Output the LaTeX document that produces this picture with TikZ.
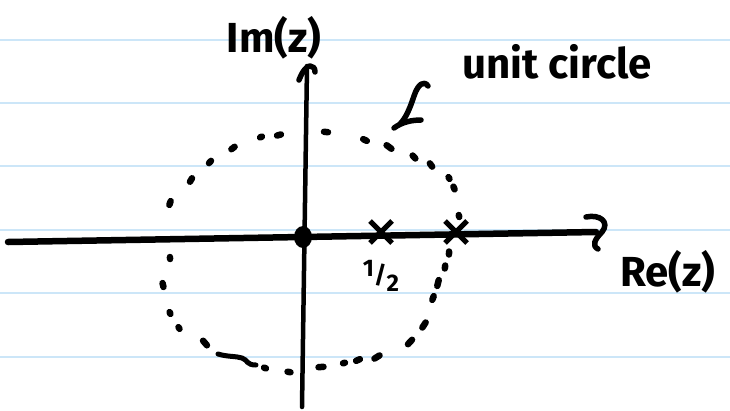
\documentclass[tikz,border=0pt]{standalone}
\usepackage{fontspec}
\setmainfont{Fira Sans}
\usetikzlibrary{arrows.meta,shapes.misc,shapes.geometric,calc}
\definecolor{rulecol}{RGB}{204,230,248}
\begin{document}
\begin{tikzpicture}[x=1pt,y=-1pt,
  rule/.style={draw=rulecol, line width=2pt},
  axis/.style={line width=6.5pt, line cap=round},
  head/.style={line width=5.5pt, line cap=round, line join=round},
  hand/.style={font=\fontsize{42}{46}\selectfont\bfseries, inner sep=0pt},
  xmark/.style={cross out, draw, line width=5pt, minimum size=17pt, inner sep=0pt},
  dotmark/.style={line width=6.5pt, line cap=round}]
\useasboundingbox (0,0) rectangle (730,410);
\fill[white] (0,0) rectangle (730,410);
% notebook lines
\foreach \y in {40,103,166,230,293,357}
  \draw[rule] (0,\y) -- (730,\y);
% circle dashes
\coordinate (c) at (311,251);
\foreach \px/\py/\l in {261/137/1,279/135/2,326/132/2,365/140/2,389/147/3,414/157/2,431/165/2,449/178/1,454/188/1.5,459/216/1,449/253/1.5,445/267/1.5,438/283/3,433/298/2,424/325/3,410/342/3,377/357/3,358/360/2,344/363/1,321/367/2.5,289/372/1.5,265/368/1,205/343/3,179/328/1,170/313/1,163/285/2,170/258/1,170/203/2,191/180/2,210/162/1.5,233/148/2}
  \draw[dotmark] ($(\px,\py)!\l pt!90:(c)$) -- ($(\px,\py)!\l pt!-90:(c)$);
\draw[dotmark, line width=5pt] (218,354) .. controls (228,357) and (236,356) .. (242,358)
  .. controls (248,360) and (246,365) .. (256,365);
% axes
\coordinate (xl) at (8,242);
\coordinate (xr) at (596,232);
\coordinate (yb) at (302,407);
\coordinate (yt) at (307,66);
\draw[axis] (xl) -- (xr);
\draw[axis, line width=4.5pt] (yb) -- (yt);
% arrow heads
\draw[head] ($(xr)+(-10,-15)$) .. controls ($(xr)+(4,-18)$) and ($(xr)+(14,-10)$) .. ($(xr)+(6,0)$)
  .. controls ($(xr)+(-2,8)$) and ($(xr)+(-4,14)$) .. ($(xr)+(2,17)$);
\draw[head] ($(yt)+(-8,14)$) .. controls ($(yt)+(-4,4)$) and ($(yt)+(0,0)$) .. ($(yt)+(3,0)$)
  .. controls ($(yt)+(6,0)$) and ($(yt)+(8,2)$) .. ($(yt)+(8,6)$);
% origin and marks
\node[ellipse, fill, minimum width=18pt, minimum height=22pt, inner sep=0pt] (O) at (303,237) {};
\node[xmark] (h) at (381,232) {};
\node[xmark] (one) at (456,232) {};
% labels
\node[hand] (im) at (274,38) {Im(z)};
\node[hand] (re) at (668,272) {Re(z)};
\node[hand] (uc) at (557,62) {unit circle};
\node[hand, font=\fontsize{24}{26}\selectfont\bfseries] (half) at (381,276)
  {\raisebox{7pt}{1}/\raisebox{-8pt}{2}};
% pointer stroke
\coordinate (pa) at (428,86);
\coordinate (pb) at (400,124);
\draw[head] (pa) .. controls (424,80) and (418,84) .. (414,96) .. controls (410,108) and (406,118) .. (pb);
\draw[head] (394,128) .. controls (402,122) and (412,120) .. (421,120);
\end{tikzpicture}
\end{document}
